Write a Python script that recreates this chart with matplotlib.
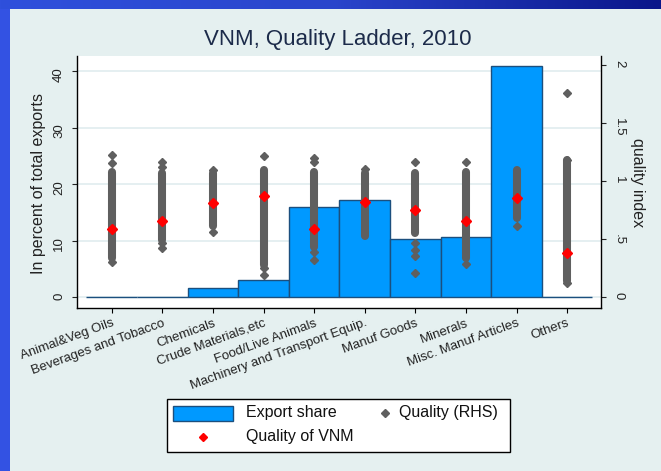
import matplotlib
matplotlib.use("Agg")
import matplotlib.pyplot as plt
import numpy as np
from matplotlib.patches import Rectangle
from matplotlib.lines import Line2D
from matplotlib.colors import LinearSegmentedColormap

categories = ["Animal&Veg Oils", "Beverages and Tobacco", "Chemicals",
              "Crude Materials,etc", "Food/Live Animals",
              "Machinery and Transport Equip.", "Manuf Goods", "Minerals",
              "Misc. Manuf Articles", "Others"]
export_share = [0.0, 0.0, 1.7, 3.1, 16.0, 17.2, 10.3, 10.6, 40.9, 0.0]
vnm_quality = [0.586, 0.655, 0.81, 0.865, 0.586, 0.82, 0.75, 0.655, 0.853, 0.373]
quality_dense_low = [0.336, 0.49, 0.606, 0.276, 0.43, 0.52, 0.55, 0.333, 0.68, 0.14]
quality_dense_high = [1.08, 1.07, 1.07, 1.095, 1.08, 1.07, 1.07, 1.08, 1.09, 1.18]
quality_points_cat = [0, 0, 0, 1, 1, 1, 1, 2, 2, 3, 3, 3, 4, 4, 4, 4,
                      5, 6, 6, 6, 6, 6, 7, 7, 8, 9, 9, 9]
quality_points_val = [1.224, 1.15, 0.30, 1.166, 1.12, 0.46, 0.42, 1.09, 0.56,
                      1.215, 0.25, 0.19, 1.20, 1.16, 0.39, 0.32,
                      1.10, 1.166, 0.46, 0.405, 0.35, 0.204, 1.166, 0.284,
                      0.61, 1.76, 1.18, 0.115]
left_ticks = [0, 10, 20, 30, 40]
right_ticks = [0, 0.5, 1, 1.5, 2]
right_tick_labels = ["0", ".5", "1", "1.5", "2"]

plt.rcParams['font.family'] = ['Liberation Sans', 'DejaVu Sans']

W, H = 661, 471
fig = plt.figure(figsize=(W / 100, H / 100), dpi=100)
fig.patch.set_facecolor('#E5F0F0')

# decorative slide border: top gradient band and left strip
band = fig.add_axes([0, 1 - 9 / H, 1, 9 / H])
grad = np.linspace(0, 1, 256).reshape(1, -1)
cmap = LinearSegmentedColormap.from_list('b', ['#2F50DC', '#2A45CC', '#0A168A'])
band.imshow(grad, aspect='auto', cmap=cmap)
band.set_axis_off()
fig.add_artist(Rectangle((0, 0), 10 / W, 1 - 9 / H, transform=fig.transFigure,
                         facecolor='#3352E3', edgecolor='none'))

x = np.arange(len(categories))

ax = fig.add_axes([77 / W, 163 / H, 524 / W, 252 / H])
ax.set_facecolor('white')
ax.bar(x, export_share, width=1.0, color='#0099FF', edgecolor='#1B4F7E',
       linewidth=1.0, zorder=2)
ax.set_xlim(-0.686, 9.67)
ax.set_ylim(-1.89, 42.7)
ax.set_yticks(left_ticks)
ax.yaxis.grid(True, color='#E3EEF0', linewidth=1.3)
ax.set_axisbelow(True)
ax.spines['top'].set_visible(False)
ax.spines['right'].set_visible(False)
for s in ['left', 'bottom']:
    ax.spines[s].set_linewidth(1.0)
ax.tick_params(axis='y', direction='out', length=3.6, width=0.8,
               labelsize=9.5, labelrotation=90, pad=5, colors='#222222')
ax.set_xticks(x)
ax.set_xticklabels(categories, rotation=20, ha='right', va='top',
                   rotation_mode='anchor', fontsize=9.5, color='#222222')
ax.tick_params(axis='x', direction='out', length=3.6, width=0.8, pad=3)
ax.set_ylabel('In percent of total exports', fontsize=11.5, va='center',
              color='#222222')
ax.yaxis.set_label_coords(-0.0744, 0.496)

ax2 = ax.twinx()
ax2.set_ylim(-0.097, 2.076)
ax2.vlines(x, quality_dense_low, quality_dense_high, color='#5F5F5F',
           linewidth=5.8, capstyle='round', zorder=3)
ax2.plot(quality_points_cat, quality_points_val, ls='', marker='D',
         color='#5F5F5F', markersize=4.4, zorder=3)
ax2.plot(x, vnm_quality, ls='', marker='D', color='#FF0000',
         markersize=5.0, zorder=4)
ax2.set_yticks(right_ticks)
ax2.set_yticklabels(right_tick_labels)
ax2.tick_params(axis='y', direction='out', length=3.6, width=0.8,
                labelsize=9.5, labelrotation=270, pad=5, colors='#222222')
for s in ['top', 'left', 'bottom']:
    ax2.spines[s].set_visible(False)
ax2.spines['right'].set_linewidth(1.0)
ax2.set_ylabel('quality index', fontsize=11.5, rotation=270, va='center',
               color='#222222')
ax2.yaxis.set_label_coords(1.0706, 0.496)

fig.text(338 / W, 1 - 39 / H, 'VNM, Quality Ladder, 2010', ha='center',
         va='center', fontsize=16, color='#1C2B4A')

# legend
fig.add_artist(Rectangle((167 / W, 19 / H), (510 - 167) / W, 53 / H,
                         transform=fig.transFigure, facecolor='white',
                         edgecolor='black', linewidth=1.0))
fig.add_artist(Rectangle((173 / W, (H - 421) / H), 60 / W, 15 / H,
                         transform=fig.transFigure, facecolor='#0099FF',
                         edgecolor='#1B4F7E', linewidth=1.0))
fig.text(246 / W, 1 - 413 / H, 'Export share', va='center', fontsize=11.5,
         color='#111111')
fig.add_artist(Line2D([385 / W], [1 - 413 / H], marker='D', color='#5F5F5F',
                      markersize=3.8, transform=fig.transFigure))
fig.text(399 / W, 1 - 413 / H, 'Quality (RHS)', va='center', fontsize=11.5,
         color='#111111')
fig.add_artist(Line2D([203 / W], [1 - 437 / H], marker='D', color='#FF0000',
                      markersize=3.8, transform=fig.transFigure))
fig.text(246 / W, 1 - 437 / H, 'Quality of VNM', va='center', fontsize=11.5,
         color='#111111')

fig.savefig('out.png', dpi=100, facecolor=fig.get_facecolor())
